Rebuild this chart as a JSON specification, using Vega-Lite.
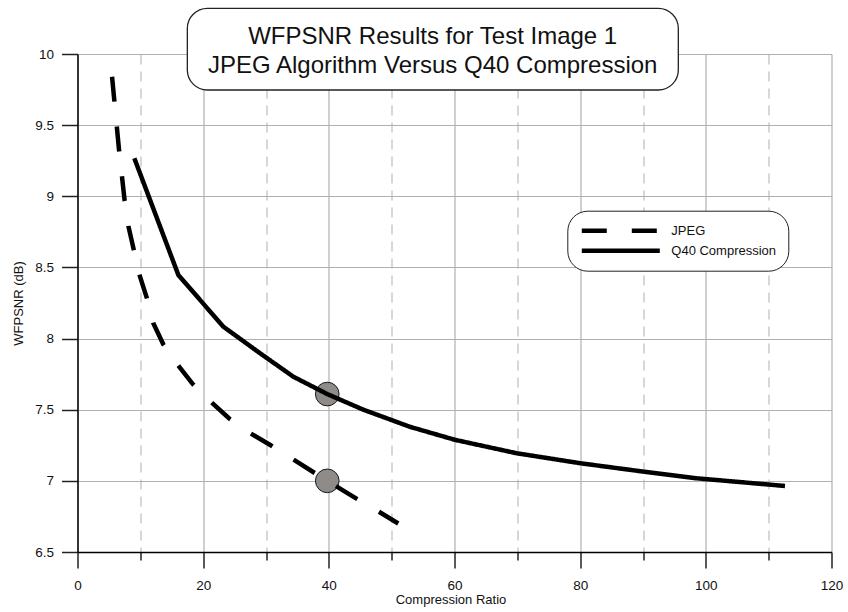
{
  "$schema": "https://vega.github.io/schema/vega-lite/v6.json",
  "width": 754,
  "height": 498,
  "autosize": {"type": "none"},
  "padding": {"left": 77.5, "top": 54, "right": 16.5, "bottom": 60},
  "background": "#ffffff",
  "title": {
    "text": ["WFPSNR Results for Test Image 1", "JPEG Algorithm Versus Q40 Compression"],
    "font": "Liberation Sans",
    "fontSize": 24,
    "fontWeight": "normal",
    "color": "#111111",
    "anchor": "middle",
    "frame": "group",
    "baseline": "alphabetic",
    "lineHeight": 29,
    "offset": 0,
    "dx": -21.8,
    "dy": 89.4
  },
  "config": {
    "font": "Liberation Sans",
    "view": {"stroke": null}
  },
  "datasets": {
    "curves": [
      {"series": "JPEG", "ratio": 5.5, "wfpsnr": 9.84},
      {"series": "JPEG", "ratio": 6.6, "wfpsnr": 9.33},
      {"series": "JPEG", "ratio": 7.5, "wfpsnr": 8.97},
      {"series": "JPEG", "ratio": 8.1, "wfpsnr": 8.79},
      {"series": "JPEG", "ratio": 8.9, "wfpsnr": 8.635},
      {"series": "JPEG", "ratio": 9.85, "wfpsnr": 8.45},
      {"series": "JPEG", "ratio": 11.0, "wfpsnr": 8.29},
      {"series": "JPEG", "ratio": 12.05, "wfpsnr": 8.11},
      {"series": "JPEG", "ratio": 13.65, "wfpsnr": 7.96},
      {"series": "JPEG", "ratio": 16.05, "wfpsnr": 7.81},
      {"series": "JPEG", "ratio": 18.35, "wfpsnr": 7.68},
      {"series": "JPEG", "ratio": 21.35, "wfpsnr": 7.55},
      {"series": "JPEG", "ratio": 24.1, "wfpsnr": 7.44},
      {"series": "JPEG", "ratio": 27.5, "wfpsnr": 7.335},
      {"series": "JPEG", "ratio": 30.75, "wfpsnr": 7.25},
      {"series": "JPEG", "ratio": 34.35, "wfpsnr": 7.15},
      {"series": "JPEG", "ratio": 39.75, "wfpsnr": 7.0},
      {"series": "JPEG", "ratio": 44.2, "wfpsnr": 6.88},
      {"series": "JPEG", "ratio": 47.9, "wfpsnr": 6.785},
      {"series": "JPEG", "ratio": 51.05, "wfpsnr": 6.7},
      {"series": "Q40 Compression", "ratio": 9.05, "wfpsnr": 9.267},
      {"series": "Q40 Compression", "ratio": 16.05, "wfpsnr": 8.447},
      {"series": "Q40 Compression", "ratio": 23.2, "wfpsnr": 8.084},
      {"series": "Q40 Compression", "ratio": 29.05, "wfpsnr": 7.897},
      {"series": "Q40 Compression", "ratio": 34.35, "wfpsnr": 7.732},
      {"series": "Q40 Compression", "ratio": 39.75, "wfpsnr": 7.61},
      {"series": "Q40 Compression", "ratio": 45.5, "wfpsnr": 7.5},
      {"series": "Q40 Compression", "ratio": 52.9, "wfpsnr": 7.38},
      {"series": "Q40 Compression", "ratio": 60.1, "wfpsnr": 7.288},
      {"series": "Q40 Compression", "ratio": 69.9, "wfpsnr": 7.194},
      {"series": "Q40 Compression", "ratio": 80.0, "wfpsnr": 7.124},
      {"series": "Q40 Compression", "ratio": 90.05, "wfpsnr": 7.065},
      {"series": "Q40 Compression", "ratio": 98.55, "wfpsnr": 7.018},
      {"series": "Q40 Compression", "ratio": 112.6, "wfpsnr": 6.964}
    ],
    "highlights": [
      {"series": "Q40 Compression", "ratio": 39.75, "wfpsnr": 7.61},
      {"series": "JPEG", "ratio": 39.75, "wfpsnr": 7.0}
    ]
  },
  "layer": [
    {
      "data": {"name": "curves"},
      "mark": {"type": "line", "color": "#000000", "strokeWidth": 4.5, "strokeCap": "butt", "opacity": 0},
      "encoding": {
        "x": {
          "field": "ratio",
          "type": "quantitative",
          "scale": {"domain": [0, 120], "nice": false, "zero": false},
          "axis": {
            "values": [0, 10, 20, 30, 40, 50, 60, 70, 80, 90, 100, 110, 120],
            "labelExpr": "datum.value % 20 === 0 ? datum.label : ''",
            "title": "Compression Ratio",
            "titleFont": "Liberation Sans",
            "titleFontSize": 13,
            "titleFontWeight": "normal",
            "titleColor": "#111111",
            "titleX": 373,
            "titleY": 51,
            "titleAlign": "center",
            "titleBaseline": "alphabetic",
            "labelFont": "Liberation Sans",
            "labelFontSize": 13.5,
            "labelColor": "#111111",
            "labelPadding": 10.5,
            "labelFlush": false,
            "labelOverlap": false,
            "domainColor": "#000000",
            "domainWidth": 1.5,
            "tickColor": "#222222",
            "tickWidth": 1.5,
            "tickSize": {"condition": {"test": "datum.value % 20 === 0", "value": 16}, "value": 8},
            "grid": true,
            "gridWidth": 1.2,
            "gridColor": {"condition": {"test": "datum.value % 20 === 0", "value": "#b0b0b0"}, "value": "#bdbdbd"},
            "gridDash": {"condition": {"test": "datum.value % 20 === 0", "value": []}, "value": [10, 7]}
          }
        },
        "y": {
          "field": "wfpsnr",
          "type": "quantitative",
          "scale": {"domain": [6.5, 10], "nice": false, "zero": false},
          "axis": {
            "values": [6.5, 6.75, 7, 7.25, 7.5, 7.75, 8, 8.25, 8.5, 8.75, 9, 9.25, 9.5, 9.75, 10],
            "labelExpr": "datum.value % 0.5 === 0 ? format(datum.value, '~g') : ''",
            "title": "WFPSNR (dB)",
            "titleFont": "Liberation Sans",
            "titleFontSize": 13,
            "titleFontWeight": "normal",
            "titleColor": "#111111",
            "titleAngle": 270,
            "titleX": -54.8,
            "titleY": 249,
            "titleAlign": "center",
            "titleBaseline": "alphabetic",
            "labelFont": "Liberation Sans",
            "labelFontSize": 13.5,
            "labelColor": "#111111",
            "labelPadding": 8,
            "labelFlush": false,
            "labelOverlap": false,
            "domainColor": "#000000",
            "domainWidth": 1.5,
            "tickColor": "#222222",
            "tickWidth": 1.5,
            "tickSize": {"condition": {"test": "datum.value % 0.5 === 0", "value": 16}, "value": 8},
            "grid": true,
            "gridWidth": 1.2,
            "gridColor": {"condition": {"test": "datum.value % 0.5 === 0", "value": "#b0b0b0"}, "value": "#bdbdbd"},
            "gridDash": {"condition": {"test": "datum.value % 0.5 === 0", "value": []}, "value": [10, 7]}
          }
        },
        "detail": {"field": "series", "type": "nominal"}
      }
    },
    {
      "data": {"values": [{"frame": "title"}]},
      "mark": {"type": "rect", "cornerRadius": 20, "fill": "#ffffff", "stroke": "#222222", "strokeWidth": 1.3},
      "encoding": {
        "x": {"datum": 17.48, "type": "quantitative", "scale": {"domain": [0, 120], "nice": false, "zero": false}},
        "x2": {"datum": 95.62},
        "y": {"datum": 10.321, "type": "quantitative", "scale": {"domain": [6.5, 10], "nice": false, "zero": false}},
        "y2": {"datum": 9.747}
      }
    },
    {
      "data": {"name": "highlights"},
      "mark": {"type": "circle", "size": 560, "color": "#8e8b89", "stroke": "#1a1a1a", "strokeWidth": 1, "opacity": 1},
      "encoding": {
        "x": {"field": "ratio", "type": "quantitative", "scale": {"domain": [0, 120], "nice": false, "zero": false}},
        "y": {"field": "wfpsnr", "type": "quantitative", "scale": {"domain": [6.5, 10], "nice": false, "zero": false}}
      }
    },
    {
      "data": {"name": "curves"},
      "mark": {"type": "line", "color": "#000000", "strokeWidth": 4.5, "strokeCap": "butt"},
      "encoding": {
        "x": {"field": "ratio", "type": "quantitative", "scale": {"domain": [0, 120], "nice": false, "zero": false}},
        "y": {"field": "wfpsnr", "type": "quantitative", "scale": {"domain": [6.5, 10], "nice": false, "zero": false}},
        "strokeDash": {
          "field": "series",
          "type": "nominal",
          "scale": {"domain": ["JPEG", "Q40 Compression"], "range": [[25, 25], [1, 0]]},
          "legend": {
            "title": null,
            "orient": "none",
            "legendX": 489.8,
            "legendY": 156.7,
            "symbolType": "stroke",
            "symbolSize": 6084,
            "symbolStrokeWidth": 4.5,
            "symbolStrokeColor": "#000000",
            "labelFont": "Liberation Sans",
            "labelFontSize": 13,
            "labelColor": "#111111",
            "labelOffset": 9,
            "clipHeight": 16,
            "rowPadding": 4,
            "padding": 12,
            "cornerRadius": 20,
            "strokeColor": "#222222",
            "fillColor": "#ffffff"
          }
        }
      }
    }
  ]
}
